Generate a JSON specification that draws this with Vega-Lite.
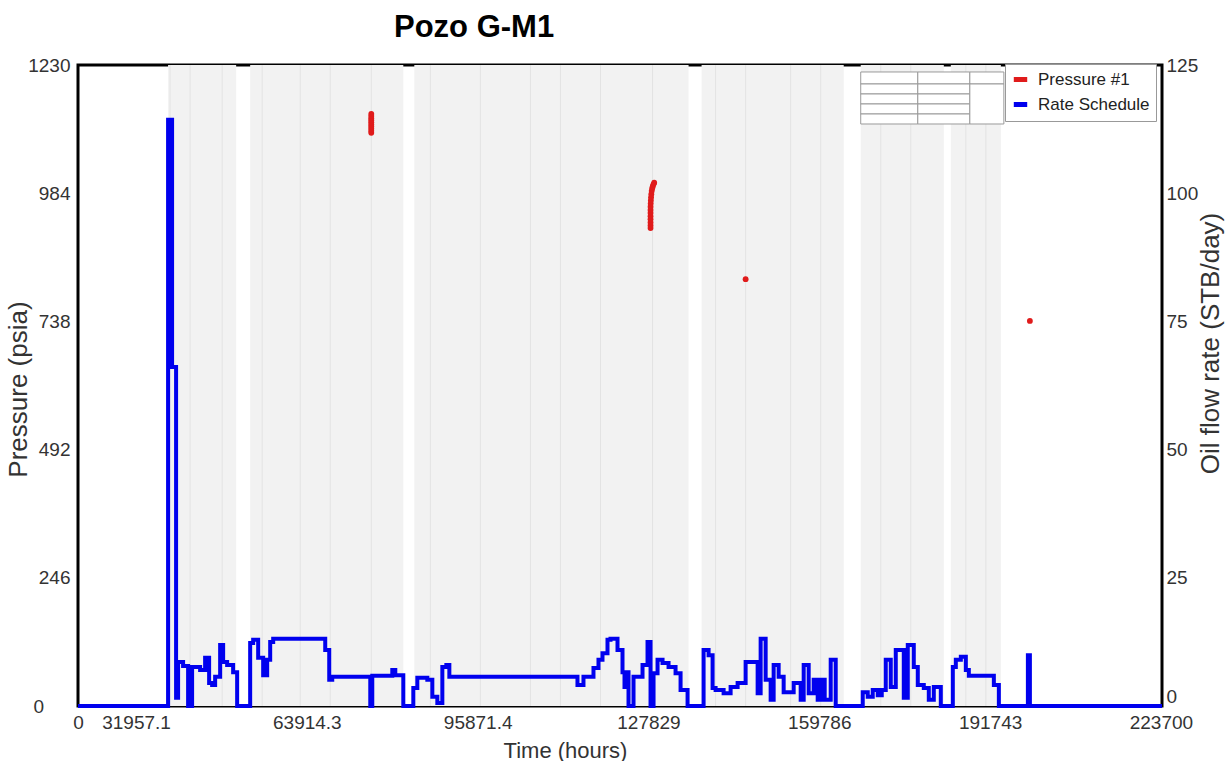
{
  "$schema": "https://vega.github.io/schema/vega-lite/v6.json",
  "width": 1084,
  "height": 641,
  "autosize": "none",
  "padding": {"left": 78, "top": 65, "right": 68, "bottom": 55},
  "background": "#ffffff",
  "config": {
    "font": "Liberation Sans",
    "view": {"stroke": "#000000", "strokeWidth": 3},
    "axis": {
      "grid": false,
      "ticks": false,
      "domain": false,
      "labelFont": "Liberation Sans",
      "labelFontSize": 19,
      "labelColor": "#333333",
      "titleFont": "Liberation Sans",
      "titleFontSize": 22,
      "titleFontWeight": "normal",
      "titleColor": "#333333"
    }
  },
  "title": {
    "text": "Pozo G-M1",
    "anchor": "start",
    "frame": "group",
    "dx": 316,
    "offset": 12,
    "fontSize": 31,
    "fontWeight": "bold",
    "font": "Liberation Sans",
    "color": "#000000"
  },
  "datasets": {
    "bands": [
      {"h": 37953, "h2": 50687},
      {"h": 53309, "h2": 81960},
      {"h": 84019, "h2": 135329},
      {"h": 137763, "h2": 164354},
      {"h": 167537, "h2": 183080},
      {"h": 184391, "h2": 193754}
    ],
    "lines": [
      {"h": 38328}, {"h": 42073}, {"h": 48065}, {"h": 55556}, {"h": 62672},
      {"h": 68290}, {"h": 75967}, {"h": 87016}, {"h": 96379}, {"h": 105742},
      {"h": 111359}, {"h": 118850}, {"h": 128587}, {"h": 140385}, {"h": 146002},
      {"h": 154429}, {"h": 160047}, {"h": 171283}, {"h": 176900}, {"h": 187200},
      {"h": 190945}
    ],
    "table": [
      {"h": 167537, "h2": 178211, "p": 1193.6, "p2": 1216.6},
      {"h": 178211, "h2": 187949, "p": 1193.6, "p2": 1216.6},
      {"h": 187949, "h2": 194316, "p": 1193.6, "p2": 1216.6},
      {"h": 167537, "h2": 178211, "p": 1174.4, "p2": 1193.6},
      {"h": 178211, "h2": 187949, "p": 1174.4, "p2": 1193.6},
      {"h": 167537, "h2": 178211, "p": 1155.2, "p2": 1174.4},
      {"h": 178211, "h2": 187949, "p": 1155.2, "p2": 1174.4},
      {"h": 167537, "h2": 178211, "p": 1136.0, "p2": 1155.2},
      {"h": 178211, "h2": 187949, "p": 1136.0, "p2": 1155.2},
      {"h": 167537, "h2": 178211, "p": 1116.8, "p2": 1136.0},
      {"h": 178211, "h2": 187949, "p": 1116.8, "p2": 1136.0},
      {"h": 187949, "h2": 194316, "p": 1116.8, "p2": 1193.6}
    ],
    "rate": [
      {"h": 21100, "rate": 0, "series": "Rate Schedule"},
      {"h": 37953, "rate": 114.3, "series": "Rate Schedule"},
      {"h": 38702, "rate": 66.1, "series": "Rate Schedule"},
      {"h": 39451, "rate": 1.6, "series": "Rate Schedule"},
      {"h": 39826, "rate": 8.6, "series": "Rate Schedule"},
      {"h": 40762, "rate": 7.8, "series": "Rate Schedule"},
      {"h": 41699, "rate": 0, "series": "Rate Schedule"},
      {"h": 42448, "rate": 7.6, "series": "Rate Schedule"},
      {"h": 43946, "rate": 7.0, "series": "Rate Schedule"},
      {"h": 44882, "rate": 9.4, "series": "Rate Schedule"},
      {"h": 45631, "rate": 4.5, "series": "Rate Schedule"},
      {"h": 46193, "rate": 4.1, "series": "Rate Schedule"},
      {"h": 46755, "rate": 5.7, "series": "Rate Schedule"},
      {"h": 47691, "rate": 11.9, "series": "Rate Schedule"},
      {"h": 48253, "rate": 8.6, "series": "Rate Schedule"},
      {"h": 49002, "rate": 8.0, "series": "Rate Schedule"},
      {"h": 50125, "rate": 6.6, "series": "Rate Schedule"},
      {"h": 50874, "rate": 0, "series": "Rate Schedule"},
      {"h": 53309, "rate": 12.3, "series": "Rate Schedule"},
      {"h": 53871, "rate": 12.9, "series": "Rate Schedule"},
      {"h": 54807, "rate": 9.4, "series": "Rate Schedule"},
      {"h": 55743, "rate": 6.0, "series": "Rate Schedule"},
      {"h": 56492, "rate": 9.0, "series": "Rate Schedule"},
      {"h": 57054, "rate": 12.5, "series": "Rate Schedule"},
      {"h": 57616, "rate": 13.1, "series": "Rate Schedule"},
      {"h": 67353, "rate": 10.9, "series": "Rate Schedule"},
      {"h": 68102, "rate": 5.1, "series": "Rate Schedule"},
      {"h": 68664, "rate": 5.7, "series": "Rate Schedule"},
      {"h": 75780, "rate": 0, "series": "Rate Schedule"},
      {"h": 76154, "rate": 5.9, "series": "Rate Schedule"},
      {"h": 79900, "rate": 7.0, "series": "Rate Schedule"},
      {"h": 80461, "rate": 6.0, "series": "Rate Schedule"},
      {"h": 81960, "rate": 0, "series": "Rate Schedule"},
      {"h": 83832, "rate": 3.5, "series": "Rate Schedule"},
      {"h": 84581, "rate": 5.5, "series": "Rate Schedule"},
      {"h": 86454, "rate": 5.1, "series": "Rate Schedule"},
      {"h": 87390, "rate": 1.8, "series": "Rate Schedule"},
      {"h": 88326, "rate": 0.6, "series": "Rate Schedule"},
      {"h": 89263, "rate": 7.6, "series": "Rate Schedule"},
      {"h": 90012, "rate": 8.0, "series": "Rate Schedule"},
      {"h": 90573, "rate": 5.7, "series": "Rate Schedule"},
      {"h": 114543, "rate": 4.1, "series": "Rate Schedule"},
      {"h": 115666, "rate": 5.7, "series": "Rate Schedule"},
      {"h": 117539, "rate": 7.4, "series": "Rate Schedule"},
      {"h": 118475, "rate": 9.0, "series": "Rate Schedule"},
      {"h": 119224, "rate": 10.3, "series": "Rate Schedule"},
      {"h": 120161, "rate": 12.9, "series": "Rate Schedule"},
      {"h": 120722, "rate": 13.1, "series": "Rate Schedule"},
      {"h": 122033, "rate": 10.9, "series": "Rate Schedule"},
      {"h": 122969, "rate": 6.6, "series": "Rate Schedule"},
      {"h": 123344, "rate": 3.7, "series": "Rate Schedule"},
      {"h": 123718, "rate": 6.6, "series": "Rate Schedule"},
      {"h": 124093, "rate": 0, "series": "Rate Schedule"},
      {"h": 125029, "rate": 5.7, "series": "Rate Schedule"},
      {"h": 126715, "rate": 8.0, "series": "Rate Schedule"},
      {"h": 127651, "rate": 12.5, "series": "Rate Schedule"},
      {"h": 128213, "rate": 0, "series": "Rate Schedule"},
      {"h": 128775, "rate": 6.4, "series": "Rate Schedule"},
      {"h": 129524, "rate": 9.0, "series": "Rate Schedule"},
      {"h": 130460, "rate": 8.4, "series": "Rate Schedule"},
      {"h": 131583, "rate": 7.6, "series": "Rate Schedule"},
      {"h": 132894, "rate": 6.4, "series": "Rate Schedule"},
      {"h": 133831, "rate": 3.1, "series": "Rate Schedule"},
      {"h": 135141, "rate": 0, "series": "Rate Schedule"},
      {"h": 138138, "rate": 10.9, "series": "Rate Schedule"},
      {"h": 139074, "rate": 9.9, "series": "Rate Schedule"},
      {"h": 139823, "rate": 3.5, "series": "Rate Schedule"},
      {"h": 140385, "rate": 3.1, "series": "Rate Schedule"},
      {"h": 141883, "rate": 2.5, "series": "Rate Schedule"},
      {"h": 143194, "rate": 3.7, "series": "Rate Schedule"},
      {"h": 144504, "rate": 4.5, "series": "Rate Schedule"},
      {"h": 146002, "rate": 8.6, "series": "Rate Schedule"},
      {"h": 148250, "rate": 2.5, "series": "Rate Schedule"},
      {"h": 148811, "rate": 13.1, "series": "Rate Schedule"},
      {"h": 149748, "rate": 5.1, "series": "Rate Schedule"},
      {"h": 150684, "rate": 1.2, "series": "Rate Schedule"},
      {"h": 151246, "rate": 8.0, "series": "Rate Schedule"},
      {"h": 152182, "rate": 5.7, "series": "Rate Schedule"},
      {"h": 153118, "rate": 2.7, "series": "Rate Schedule"},
      {"h": 154991, "rate": 4.5, "series": "Rate Schedule"},
      {"h": 156302, "rate": 1.2, "series": "Rate Schedule"},
      {"h": 156864, "rate": 8.0, "series": "Rate Schedule"},
      {"h": 157800, "rate": 2.5, "series": "Rate Schedule"},
      {"h": 158736, "rate": 5.1, "series": "Rate Schedule"},
      {"h": 159485, "rate": 1.2, "series": "Rate Schedule"},
      {"h": 160047, "rate": 5.1, "series": "Rate Schedule"},
      {"h": 160796, "rate": 1.2, "series": "Rate Schedule"},
      {"h": 161919, "rate": 9.0, "series": "Rate Schedule"},
      {"h": 162856, "rate": 0, "series": "Rate Schedule"},
      {"h": 167912, "rate": 2.7, "series": "Rate Schedule"},
      {"h": 168848, "rate": 1.8, "series": "Rate Schedule"},
      {"h": 169784, "rate": 3.1, "series": "Rate Schedule"},
      {"h": 170721, "rate": 2.1, "series": "Rate Schedule"},
      {"h": 171470, "rate": 3.1, "series": "Rate Schedule"},
      {"h": 172219, "rate": 9.0, "series": "Rate Schedule"},
      {"h": 173155, "rate": 3.7, "series": "Rate Schedule"},
      {"h": 174091, "rate": 10.9, "series": "Rate Schedule"},
      {"h": 175590, "rate": 1.6, "series": "Rate Schedule"},
      {"h": 176339, "rate": 11.9, "series": "Rate Schedule"},
      {"h": 177462, "rate": 7.6, "series": "Rate Schedule"},
      {"h": 178211, "rate": 4.1, "series": "Rate Schedule"},
      {"h": 179335, "rate": 3.5, "series": "Rate Schedule"},
      {"h": 180271, "rate": 1.2, "series": "Rate Schedule"},
      {"h": 181207, "rate": 3.7, "series": "Rate Schedule"},
      {"h": 182518, "rate": 0, "series": "Rate Schedule"},
      {"h": 184765, "rate": 7.6, "series": "Rate Schedule"},
      {"h": 185327, "rate": 9.0, "series": "Rate Schedule"},
      {"h": 186263, "rate": 9.6, "series": "Rate Schedule"},
      {"h": 187200, "rate": 7.0, "series": "Rate Schedule"},
      {"h": 187761, "rate": 5.9, "series": "Rate Schedule"},
      {"h": 192443, "rate": 4.1, "series": "Rate Schedule"},
      {"h": 193379, "rate": 0, "series": "Rate Schedule"},
      {"h": 198810, "rate": 9.9, "series": "Rate Schedule"},
      {"h": 199184, "rate": 0, "series": "Rate Schedule"},
      {"h": 223900, "rate": 0, "series": "Rate Schedule"}
    ],
    "pressure": [
      {"h": 75967, "pressure": 1100, "series": "Pressure #1"},
      {"h": 75967, "pressure": 1104, "series": "Pressure #1"},
      {"h": 75967, "pressure": 1108, "series": "Pressure #1"},
      {"h": 75967, "pressure": 1112, "series": "Pressure #1"},
      {"h": 75967, "pressure": 1116, "series": "Pressure #1"},
      {"h": 75967, "pressure": 1120, "series": "Pressure #1"},
      {"h": 75967, "pressure": 1124, "series": "Pressure #1"},
      {"h": 75967, "pressure": 1128, "series": "Pressure #1"},
      {"h": 75967, "pressure": 1132, "series": "Pressure #1"},
      {"h": 75967, "pressure": 1136, "series": "Pressure #1"},
      {"h": 128213, "pressure": 917, "series": "Pressure #1"},
      {"h": 128213, "pressure": 922, "series": "Pressure #1"},
      {"h": 128213, "pressure": 928, "series": "Pressure #1"},
      {"h": 128213, "pressure": 934, "series": "Pressure #1"},
      {"h": 128213, "pressure": 940, "series": "Pressure #1"},
      {"h": 128213, "pressure": 946, "series": "Pressure #1"},
      {"h": 128213, "pressure": 952, "series": "Pressure #1"},
      {"h": 128220, "pressure": 958, "series": "Pressure #1"},
      {"h": 128240, "pressure": 964, "series": "Pressure #1"},
      {"h": 128270, "pressure": 970, "series": "Pressure #1"},
      {"h": 128310, "pressure": 976, "series": "Pressure #1"},
      {"h": 128360, "pressure": 982, "series": "Pressure #1"},
      {"h": 128430, "pressure": 988, "series": "Pressure #1"},
      {"h": 128520, "pressure": 993, "series": "Pressure #1"},
      {"h": 128630, "pressure": 997, "series": "Pressure #1"},
      {"h": 128760, "pressure": 1001, "series": "Pressure #1"},
      {"h": 128900, "pressure": 1004, "series": "Pressure #1"},
      {"h": 146002, "pressure": 819, "series": "Pressure #1"},
      {"h": 199184, "pressure": 739, "series": "Pressure #1"}
    ]
  },
  "encoding": {
    "x": {
      "field": "h",
      "type": "quantitative",
      "scale": {"domain": [21100, 223900], "nice": false, "zero": false},
      "axis": {
        "values": [21100, 31957.1, 63914.3, 95871.4, 127829, 159786, 191743, 223700],
        "labelExpr": "datum.value < 25000 ? '0' : toString(datum.value)",
        "labelFlush": false,
        "labelOverlap": false,
        "labelBound": false,
        "labelPadding": 7,
        "title": "Time (hours)",
        "titleX": 487,
        "titleY": 44,
        "titleAlign": "center",
        "titleBaseline": "middle"
      }
    }
  },
  "layer": [
    {
      "data": {"name": "bands"},
      "mark": {"type": "rect", "color": "#f2f2f2"},
      "encoding": {"x2": {"field": "h2"}}
    },
    {
      "data": {"name": "lines"},
      "mark": {"type": "rule", "color": "#e3e3e3", "strokeWidth": 1},
      "encoding": {}
    },
    {
      "data": {"name": "table"},
      "mark": {"type": "rect", "fill": "#ffffff", "stroke": "#9a9a9a", "strokeWidth": 1},
      "encoding": {
        "x2": {"field": "h2"},
        "y": {"field": "p", "type": "quantitative", "scale": {"domain": [0, 1230], "nice": false}, "axis": null},
        "y2": {"field": "p2"}
      }
    },
    {
      "data": {"name": "rate"},
      "mark": {"type": "line", "interpolate": "step-after", "strokeWidth": 4, "clip": false},
      "encoding": {
        "y": {
          "field": "rate",
          "type": "quantitative",
          "scale": {"domain": [0, 125], "nice": false},
          "axis": {
            "orient": "right",
            "values": [0, 25, 50, 75, 100, 125],
            "labelPadding": 4,
            "labelBaseline": {"condition": {"test": "datum.value == 0", "value": "bottom"}, "value": "middle"},
            "title": "Oil flow rate (STB/day)",
            "titleFontSize": 26,
            "titleAngle": -90,
            "titleX": 48,
            "titleY": 278,
            "titleAlign": "center",
            "titleBaseline": "middle"
          }
        },
        "color": {
          "field": "series",
          "type": "nominal",
          "scale": {"domain": ["Pressure #1", "Rate Schedule"], "range": ["#e01b1b", "#0000ee"]},
          "legend": {
            "title": null,
            "orient": "none",
            "legendX": 927,
            "legendY": -1,
            "symbolType": "stroke",
            "symbolStrokeWidth": 5,
            "symbolSize": 180,
            "labelFontSize": 17,
            "labelFont": "Liberation Sans",
            "labelColor": "#222222",
            "fillColor": "#ffffff",
            "strokeColor": "#999999",
            "padding": 6,
            "rowPadding": 4,
            "labelOffset": 8,
            "encode": {
              "symbols": {"update": {"stroke": {"scale": "color", "field": "value"}, "strokeWidth": {"value": 5}}}
            }
          }
        }
      }
    },
    {
      "data": {"name": "pressure"},
      "mark": {"type": "point", "filled": true, "size": 34, "opacity": 1},
      "encoding": {
        "y": {
          "field": "pressure",
          "type": "quantitative",
          "scale": {"domain": [0, 1230], "nice": false},
          "axis": {
            "orient": "left",
            "values": [0, 246, 492, 738, 984, 1230],
            "format": "d",
            "labelPadding": 8,
            "labelExpr": "datum.value == 0 ? '0\\u00a0\\u00a0\\u00a0\\u00a0\\u00a0\\u200b' : datum.label",
            "title": "Pressure (psia)",
            "titleFontSize": 26,
            "titleAngle": -90,
            "titleX": -60,
            "titleY": 324,
            "titleAlign": "center",
            "titleBaseline": "middle"
          }
        },
        "color": {"field": "series", "type": "nominal"}
      }
    }
  ],
  "resolve": {"scale": {"y": "independent"}, "axis": {"y": "independent"}}
}
